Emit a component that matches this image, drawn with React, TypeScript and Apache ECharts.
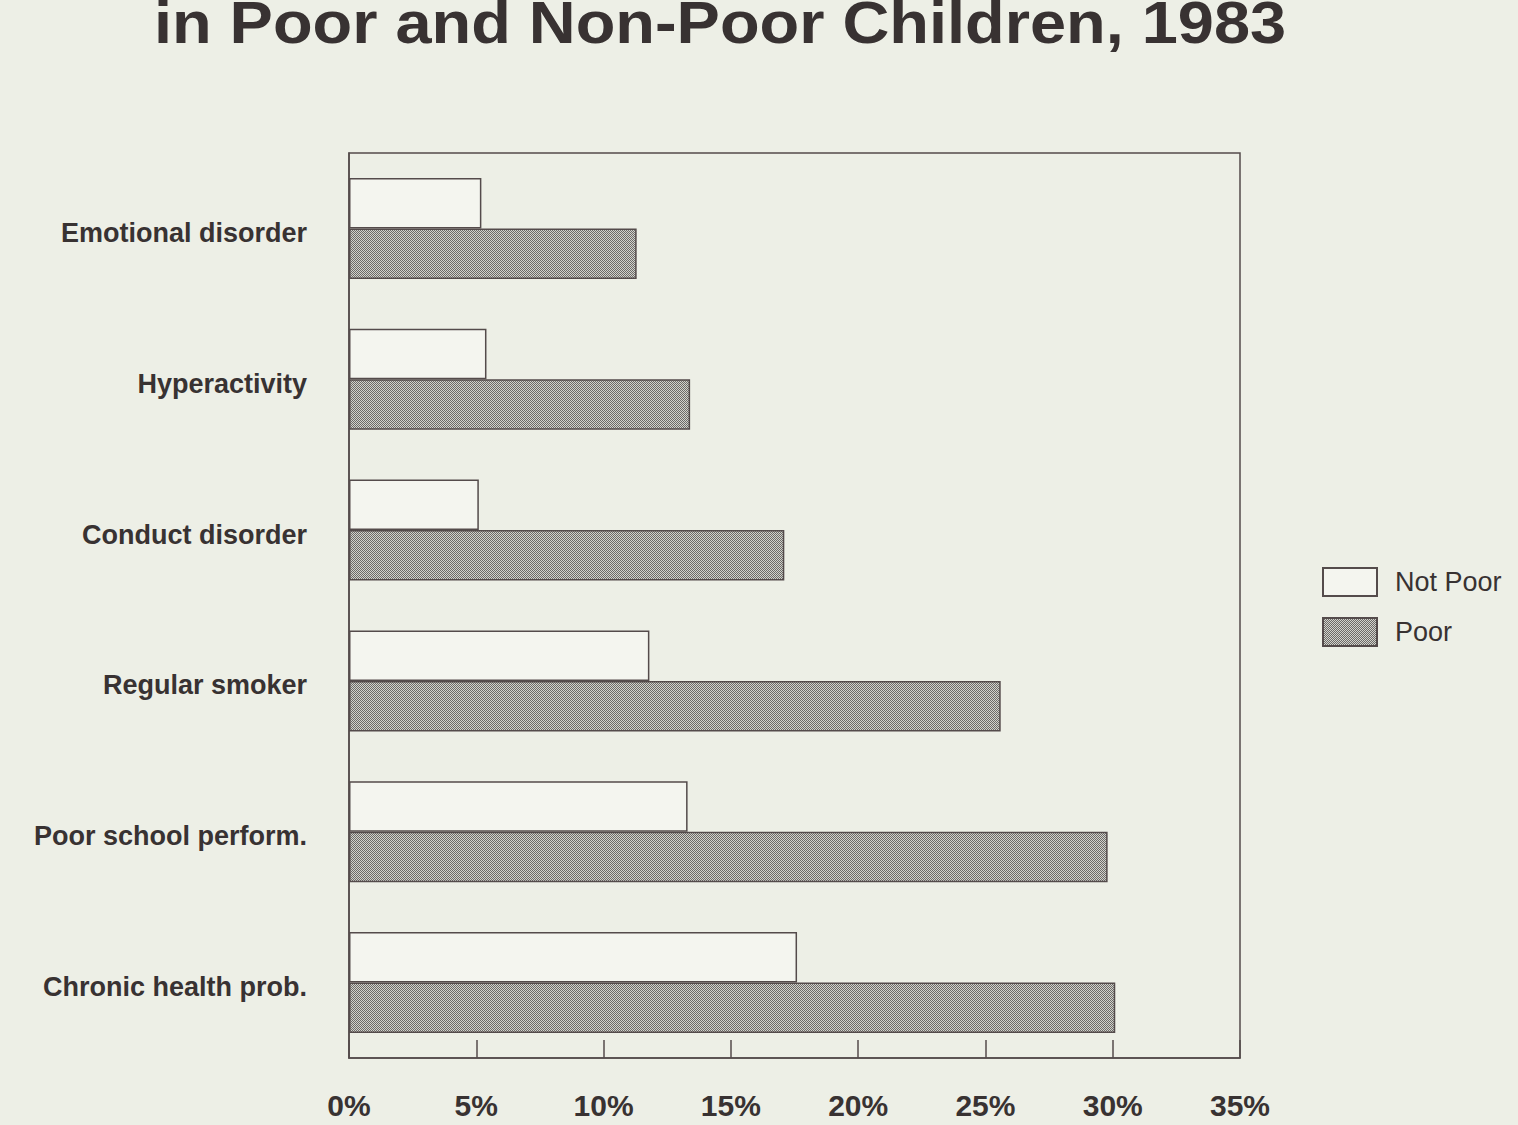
import React, { useEffect, useRef } from "react";
import * as echarts from "echarts";

const categories = [
  "Emotional disorder",
  "Hyperactivity",
  "Conduct disorder",
  "Regular smoker",
  "Poor school perform.",
  "Chronic health prob.",
];
const notPoor = [5.2, 5.4, 5.1, 11.8, 13.3, 17.6];
const poor = [11.3, 13.4, 17.1, 25.6, 29.8, 30.1];
const xTicks = [0, 5, 10, 15, 20, 25, 30, 35];

const FONT = '"Liberation Sans", Arial, Helvetica, sans-serif';
const INK = "#383232";
const EDGE = "#544b4b";

// fine halftone used for the "Poor" bars
function halftone(): HTMLCanvasElement {
  const c = document.createElement("canvas");
  c.width = 2;
  c.height = 2;
  const ctx = c.getContext("2d")!;
  ctx.fillStyle = "#d2d2cc";
  ctx.fillRect(0, 0, 2, 2);
  ctx.fillStyle = "#6c6a67";
  ctx.fillRect(0, 0, 1, 1);
  ctx.fillRect(1, 1, 1, 1);
  return c;
}

export default function App() {
  const ref = useRef<HTMLDivElement>(null);

  useEffect(() => {
    document.body.style.margin = "0";
    if (!ref.current) return;
    const chart = echarts.init(ref.current, null, { renderer: "svg" });
    const dots = halftone();

    chart.setOption({
      animation: false,
      backgroundColor: "#edefe6",
      graphic: [
        {
          type: "text",
          x: 720,
          y: 23,
          scaleX: 1.1,
          style: {
            text: "in Poor and Non-Poor Children, 1983",
            font: `bold 59px ${FONT}`,
            fill: INK,
            textAlign: "center",
            textVerticalAlign: "middle",
          },
        },
      ],
      legend: {
        orient: "vertical",
        left: 1322,
        top: 567,
        padding: 0,
        icon: "rect",
        itemWidth: 54,
        itemHeight: 28,
        itemGap: 20,
        textStyle: { fontFamily: FONT, fontSize: 27, color: INK, padding: [0, 0, 0, 13] },
        data: ["Not Poor", "Poor"],
      },
      grid: {
        left: 349,
        right: 1518 - 1240,
        top: 153,
        bottom: 1125 - 1058,
        show: true,
        borderColor: EDGE,
        borderWidth: 1.5,
        backgroundColor: "transparent",
      },
      xAxis: {
        type: "value",
        min: 0,
        max: 35,
        interval: 5,
        axisLine: { show: true, lineStyle: { color: EDGE, width: 1.5 } },
        axisTick: { show: true, inside: true, length: 18, lineStyle: { color: EDGE, width: 1.5 } },
        splitLine: { show: false },
        axisLabel: {
          margin: 32,
          fontFamily: FONT,
          fontSize: 30,
          fontWeight: "bold",
          color: INK,
          formatter: (v: number) => (xTicks.includes(v) ? `${v}%` : ""),
        },
      },
      yAxis: {
        type: "category",
        inverse: true,
        data: categories,
        axisLine: { show: true, lineStyle: { color: EDGE, width: 1.5 } },
        axisTick: { show: false },
        axisLabel: {
          margin: 42,
          fontFamily: FONT,
          fontSize: 27,
          fontWeight: "bold",
          color: INK,
          verticalAlign: "top",
          lineHeight: 9,
        },
      },
      series: [
        {
          name: "Not Poor",
          type: "bar",
          data: notPoor,
          barGap: "0%",
          barCategoryGap: "33%",
          itemStyle: { color: "#f4f5ef", borderColor: EDGE, borderWidth: 1.5 },
        },
        {
          name: "Poor",
          type: "bar",
          data: poor,
          barGap: "0%",
          barCategoryGap: "33%",
          itemStyle: {
            color: { image: dots, repeat: "repeat", imageWidth: 2, imageHeight: 2 },
            borderColor: EDGE,
            borderWidth: 1.5,
          },
        },
      ],
    });

    return () => chart.dispose();
  }, []);

  return <div ref={ref} style={{ width: 1518, height: 1125 }} />;
}
